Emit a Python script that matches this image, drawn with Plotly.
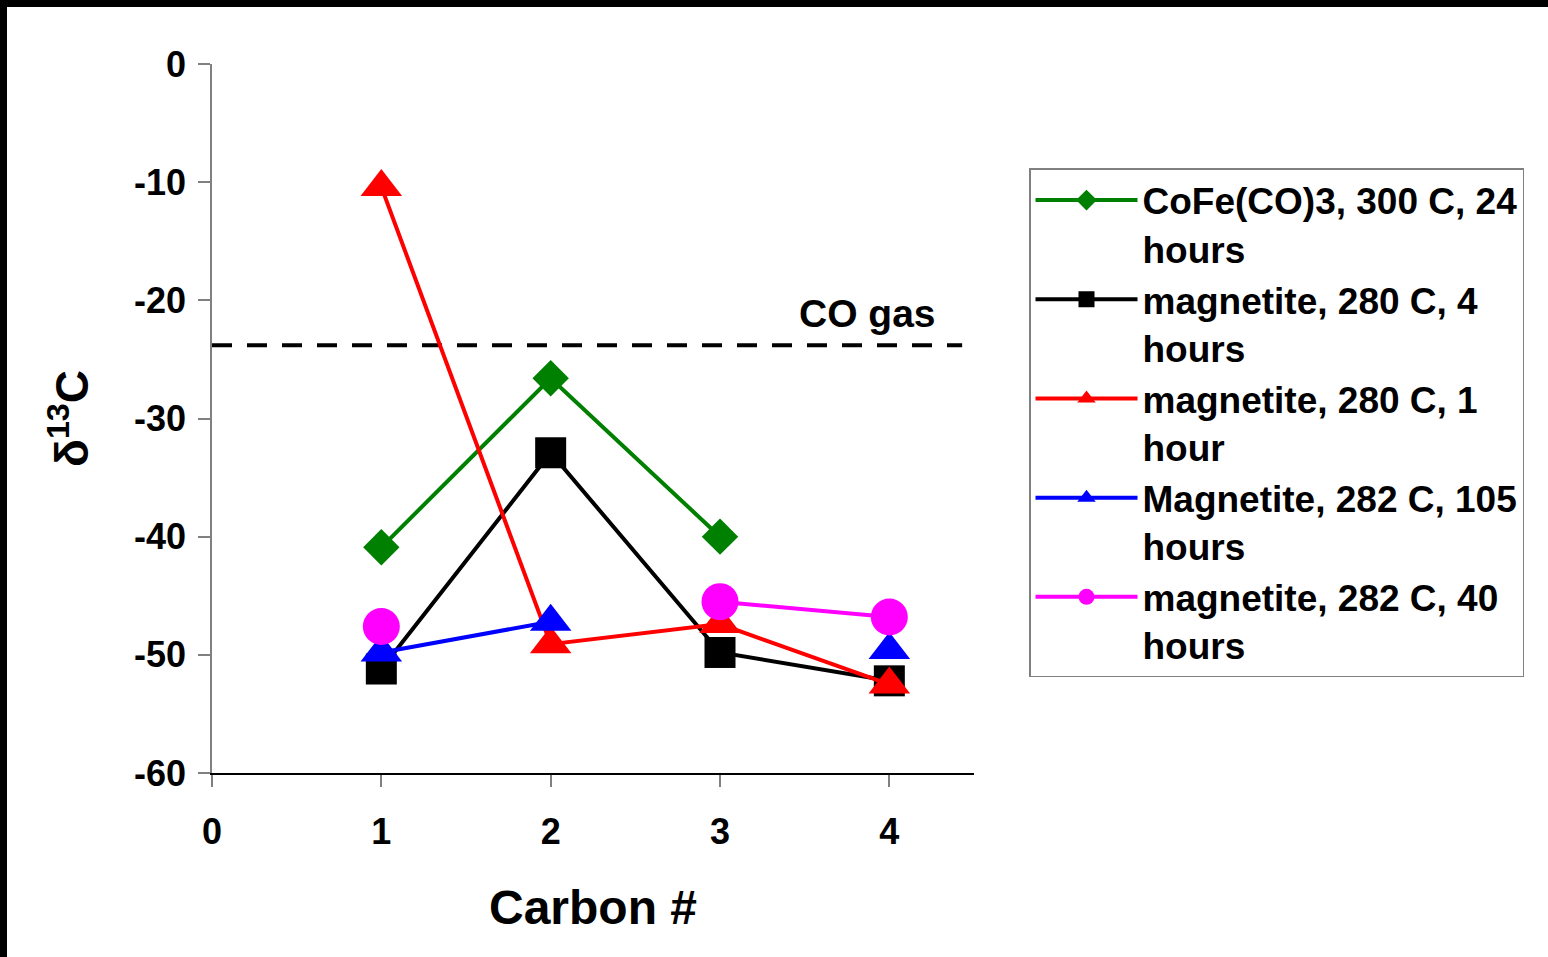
import plotly.graph_objects as go

# Carbon number of each product
carbon = [1, 2, 3, 4]

# delta 13C values per experiment (None = not measured, line breaks there)
cofe_300c_24h = [-40.9, -26.6, -40.0, None]
mag_280c_4h = [-51.2, -32.9, -49.8, -52.2]
mag_280c_1h = [-10.4, -49.1, -47.4, -52.5]
mag_282c_105h = [-49.8, -47.2, None, -49.6]
mag_282c_40h = [-47.6, None, -45.5, -46.8]

# reference value for the CO gas
co_gas = -23.8
co_gas_x = [0, 4.43]

x_ticks = [0, 1, 2, 3, 4]
y_ticks = [0, -10, -20, -30, -40, -50, -60]
y_tick_labels = ["0", "-10", "-20", "-30", "-40", "-50", "-60"]

series = [
    ("CoFe(CO)3, 300 C, 24<br>hours", cofe_300c_24h, "#008000", "diamond", 28),
    ("magnetite, 280 C, 4<br>hours", mag_280c_4h, "#000000", "square", 31),
    ("magnetite, 280 C, 1<br>hour", mag_280c_1h, "#ff0000", "triangle-up", 36),
    ("Magnetite, 282 C, 105<br>hours", mag_282c_105h, "#0000ff", "triangle-up", 36),
    ("magnetite, 282 C, 40<br>hours", mag_282c_40h, "#ff00ff", "circle", 37),
]

FONT = "Liberation Sans, Arial, sans-serif"
W, H = 1548, 957
L, R, T, B = 212, 574, 64, 184

fig = go.Figure()

fig.add_trace(go.Scatter(
    x=co_gas_x, y=[co_gas, co_gas], mode="lines",
    line=dict(color="black", width=4, dash="20px,15px"),
    showlegend=False, hoverinfo="skip",
))

for name, vals, color, symbol, size in series:
    fig.add_trace(go.Scatter(
        x=carbon, y=vals, name=name, mode="lines+markers", connectgaps=False,
        line=dict(color=color, width=4),
        marker=dict(color=color, symbol=symbol, size=size, line=dict(width=0)),
    ))

fig.add_annotation(
    x=3.87, y=co_gas, xref="x", yref="y", text="CO gas", showarrow=False,
    yanchor="bottom", yshift=8, font=dict(family=FONT, size=39, color="black", weight="bold"),
)

# frame strips along the top and left edges of the page
pw, ph = W - L - R, H - T - B
def px_x(p):
    return (p - L) / pw
def px_y(p):
    return (H - B - p) / ph
fig.add_shape(type="rect", xref="paper", yref="paper", x0=px_x(0), x1=px_x(W),
              y0=px_y(7), y1=px_y(-2), fillcolor="black", line=dict(width=0), layer="above")
fig.add_shape(type="rect", xref="paper", yref="paper", x0=px_x(-2), x1=px_x(7),
              y0=px_y(H + 2), y1=px_y(0), fillcolor="black", line=dict(width=0), layer="above")

fig.update_layout(
    width=W, height=H,
    margin=dict(l=L, r=R, t=T, b=B, autoexpand=False),
    paper_bgcolor="white", plot_bgcolor="white",
    font=dict(family=FONT, color="black", size=36, weight="bold"),
    showlegend=True,
    legend=dict(
        x=px_x(1029), y=px_y(168), xanchor="left", yanchor="top",
        bordercolor="#808080", borderwidth=1.5, bgcolor="white",
        font=dict(family=FONT, size=37, color="black", weight="bold"),
        itemwidth=102, tracegroupgap=0, valign="top",
    ),
    xaxis=dict(
        range=[0, 4.5], tickvals=x_ticks, ticks="outside", ticklen=12, tickwidth=1.5,
        tickcolor="#808080", showline=True, linecolor="black", linewidth=1.5,
        showgrid=False, zeroline=False, ticklabelstandoff=14,
        tickfont=dict(family=FONT, size=36, weight="bold"),
        title=dict(text="Carbon #", font=dict(family=FONT, size=48, weight="bold"), standoff=39),
    ),
    yaxis=dict(
        range=[-60, 0], tickvals=y_ticks, ticktext=y_tick_labels, ticks="outside",
        ticklen=12, tickwidth=1.5,
        tickcolor="#808080", showline=True, linecolor="#808080", linewidth=1.5,
        showgrid=False, zeroline=False, ticklabelstandoff=5,
        tickfont=dict(family=FONT, size=36, weight="bold"),
        title=dict(text="δ<sup>13</sup>C", font=dict(family=FONT, size=46, weight="bold"), standoff=31),
    ),
)

fig.write_html("out.html")
